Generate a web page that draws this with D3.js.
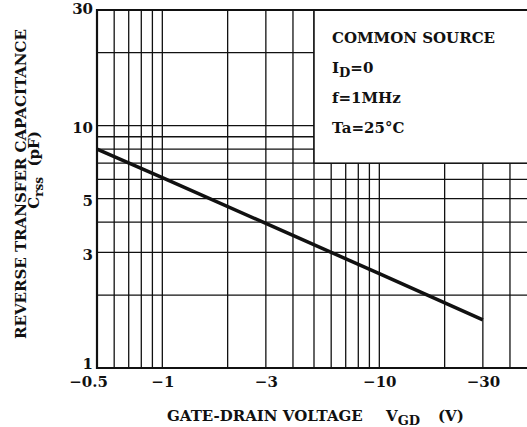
<!DOCTYPE html>
<html lang="en">
<head>
<meta charset="utf-8">
<title>Crss - VGD</title>
<style>
    body { margin: 0; background: #fff; }
    svg { display: block; }
    .lbl { font-family: "DejaVu Serif", "Liberation Serif", serif; font-weight: bold; fill: #111; }
    .grid line { stroke: #111; stroke-width: 1.3; }
</style>
</head>
<body>
<svg width="527" height="427"></svg>
<script src="https://d3js.org/d3.v7.min.js"></script>
<script>
// curve: |VGD| (V) vs Crss (pF)
var vgd  = [0.5, 1, 3, 10, 30];
var crss = [8, 6.1, 3.95, 2.45, 1.58];

// grid & ticks
var xGrid = [0.6, 0.7, 0.8, 0.9, 1, 2, 3, 4, 5, 6, 7, 8, 9, 10, 20, 30, 40];
var yGrid = [2, 3, 4, 5, 6, 7, 8, 9, 10, 20];
var xTicks = [0.5, 1, 3, 10, 30];
var xTickLabels = ["\u22120.5", "\u22121", "\u22123", "\u221210", "\u221230"];
var yTicks = [1, 3, 5, 10, 30];
var yTickLabels = ["1", "3", "5", "10", "30"];

var svg = d3.select("svg");

var x = d3.scaleLog().domain([0.5, 50]).range([97, 531]);
var y = d3.scaleLog().domain([1, 30]).range([368, 10]);

// gridlines
var grid = svg.append("g").attr("class", "grid");
grid.selectAll(".v").data(xGrid).enter().append("line")
    .attr("x1", function (d) { return x(d); })
    .attr("x2", function (d) { return x(d); })
    .attr("y1", y(1)).attr("y2", y(30));
grid.selectAll(".h").data(yGrid).enter().append("line")
    .attr("x1", x(0.5)).attr("x2", x(50))
    .attr("y1", function (d) { return y(d); })
    .attr("y2", function (d) { return y(d); });

// condition box hides grid in upper right
svg.append("rect")
    .attr("x", x(5)).attr("y", y(30))
    .attr("width", x(50) - x(5)).attr("height", y(7) - y(30))
    .attr("fill", "#fff").attr("stroke", "#111").attr("stroke-width", 1.5);

// frame
svg.append("path")
    .attr("d", "M" + x(50) + "," + y(30) + "H" + x(0.5) + "V" + y(1) + "H" + x(50))
    .attr("fill", "none").attr("stroke", "#111").attr("stroke-width", 2.2);

// curve
var line = d3.line()
    .x(function (d, i) { return x(vgd[i]); })
    .y(function (d) { return y(d); });
svg.append("path")
    .datum(crss)
    .attr("d", line)
    .attr("fill", "none").attr("stroke", "#111").attr("stroke-width", 3.5);

// x tick labels
var xAxis = d3.axisBottom(x).tickValues(xTicks).tickSize(0)
    .tickFormat(function (d, i) { return xTickLabels[i]; });
var gx = svg.append("g").attr("transform", "translate(0," + y(1) + ")").call(xAxis);
gx.select(".domain").remove();
gx.selectAll("text").attr("class", "lbl").attr("font-size", 15).attr("dy", 0).attr("y", 19)
    .attr("fill", "#111")
    .attr("dx", function (d, i) { return i === 0 ? -9 : 0; });

// y tick labels
var yAxis = d3.axisLeft(y).tickValues(yTicks).tickSize(0)
    .tickFormat(function (d, i) { return yTickLabels[i]; });
var gy = svg.append("g").attr("transform", "translate(" + x(0.5) + ",0)").call(yAxis);
gy.select(".domain").remove();
gy.selectAll("text").attr("class", "lbl").attr("font-size", 15).attr("x", -4)
    .attr("fill", "#111")
    .attr("dy", function (d) { return d === 30 ? "0.2em" : (d === 1 ? "0.05em" : "0.45em"); });

// axis titles
var xt = svg.append("text").attr("class", "lbl").attr("font-size", 15)
    .attr("x", 167).attr("y", 421);
xt.append("tspan").text("GATE-DRAIN VOLTAGE");
xt.append("tspan").attr("x", 386).text("V");
xt.append("tspan").attr("font-size", 13).attr("dy", 4).text("GD");
xt.append("tspan").attr("x", 438).attr("dy", -4).text("(V)");

svg.append("text").attr("class", "lbl").attr("font-size", 15)
    .attr("text-anchor", "middle")
    .attr("transform", "translate(26,184) rotate(-90)")
    .text("REVERSE TRANSFER CAPACITANCE");

var yt2 = svg.append("text").attr("class", "lbl").attr("font-size", 15)
    .attr("text-anchor", "middle")
    .attr("transform", "translate(39,170) rotate(-90)");
yt2.append("tspan").text("C");
yt2.append("tspan").attr("font-size", 12).attr("dy", 4).text("rss");
yt2.append("tspan").attr("dy", -4).text("\u00a0\u00a0(pF)");

// conditions
var cx = 332;
svg.append("text").attr("class", "lbl").attr("font-size", 15)
    .attr("x", cx).attr("y", 43).text("COMMON SOURCE");
var id = svg.append("text").attr("class", "lbl").attr("font-size", 15)
    .attr("x", cx).attr("y", 73);
id.append("tspan").text("I");
id.append("tspan").attr("dy", 4).attr("font-size", 13).text("D");
id.append("tspan").attr("dy", -4).text("=0");
svg.append("text").attr("class", "lbl").attr("font-size", 15)
    .attr("x", cx).attr("y", 103).text("f=1MHz");
svg.append("text").attr("class", "lbl").attr("font-size", 15)
    .attr("x", cx).attr("y", 133).text("Ta=25\u00b0C");
</script>
</body>
</html>
